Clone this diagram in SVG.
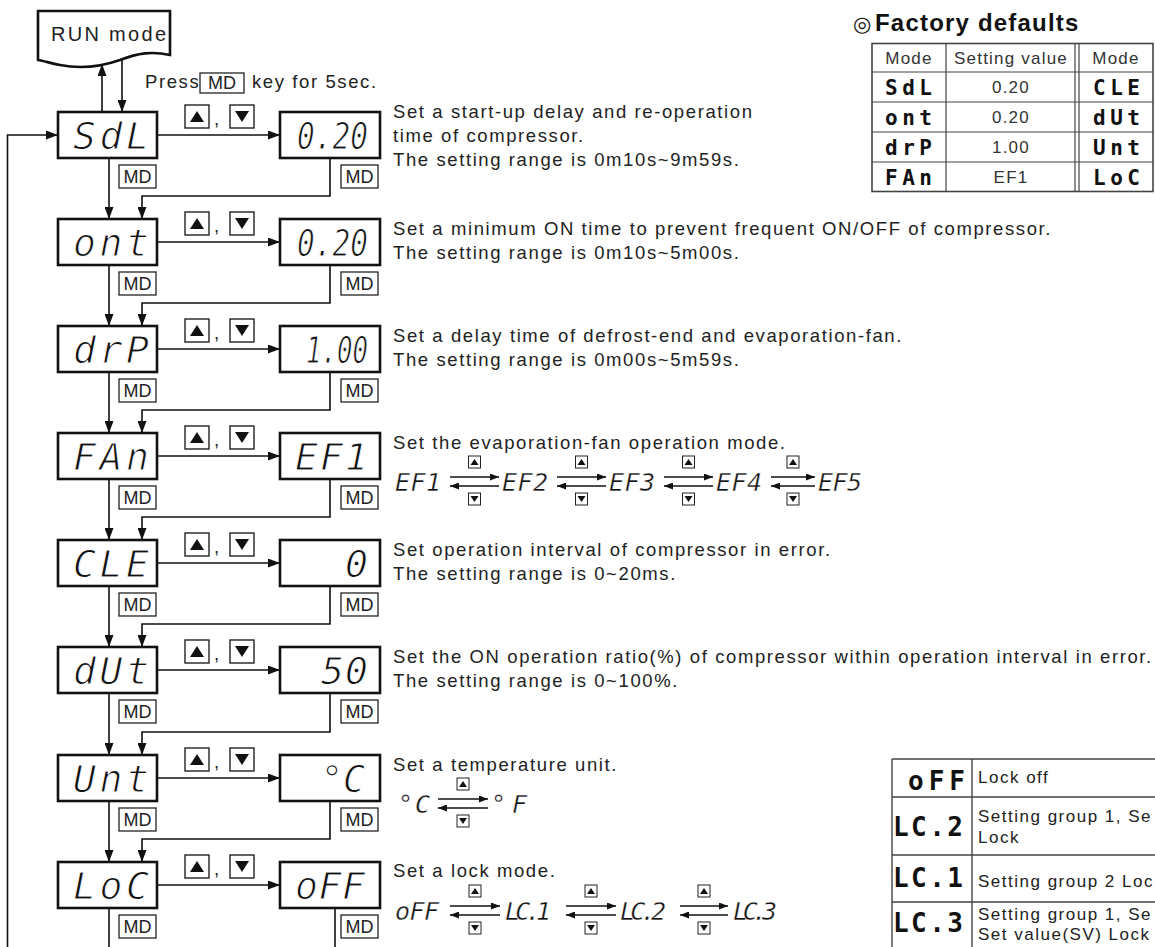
<svg xmlns="http://www.w3.org/2000/svg" width="1155" height="947" viewBox="0 0 1155 947">
<style>
.bx{fill:#fff;stroke:#111;stroke-width:2.6}
.md{fill:#fff;stroke:#222;stroke-width:1.3}
.k{fill:#fff;stroke:#222;stroke-width:1.4}
.sk{fill:#fff;stroke:#222;stroke-width:1}
.tri{fill:#111}
.ln{fill:none;stroke:#111;stroke-width:1.6}
.sa{fill:none;stroke:#111;stroke-width:1.4}
.seg{font-family:'DejaVu Sans Mono',monospace;font-style:oblique;fill:#111;stroke:#fff}
.n{font-size:38px;stroke-width:1.0px}
.s{font-size:25px;stroke-width:0.4px}
.bs{font-family:'DejaVu Sans Mono',monospace;font-weight:bold;fill:#111}
.t{font-family:'Liberation Sans',Arial,sans-serif;font-size:18.5px;letter-spacing:1.6px;fill:#222}
.lt{font-family:'Liberation Sans',Arial,sans-serif;font-size:17px;letter-spacing:1.5px;fill:#222}
.mt{font-family:'Liberation Sans',Arial,sans-serif;font-size:18px;fill:#222;text-anchor:middle}
.tb{font-family:'Liberation Sans',Arial,sans-serif;font-size:17px;letter-spacing:1.2px;fill:#333;text-anchor:middle}
.tg{fill:none;stroke:#444;stroke-width:1.2}
</style>
<defs>
<marker id="ah" viewBox="0 0 12 9" refX="12" refY="4.5" markerWidth="12" markerHeight="9" orient="auto" markerUnits="userSpaceOnUse"><path d="M0,0 L12,4.5 L0,9 Z" fill="#111"/></marker>
<marker id="as" viewBox="0 0 9 7" refX="9" refY="3.5" markerWidth="9" markerHeight="7" orient="auto" markerUnits="userSpaceOnUse"><path d="M0,0 L9,3.5 L0,7 Z" fill="#111"/></marker>
</defs>
<rect width="1155" height="947" fill="#fff"/>

<g id="connectors">
<path class="ln" d="M102,112 V64" marker-end="url(#ah)"/>
<path class="ln" d="M122,60 V112" marker-end="url(#ah)"/>
<path class="ln" d="M7.5,947 V135 H58" marker-end="url(#ah)"/>
<path class="ln" d="M157,135 H280" marker-end="url(#ah)"/>
<path class="ln" d="M157,242 H280" marker-end="url(#ah)"/>
<path class="ln" d="M157,349 H280" marker-end="url(#ah)"/>
<path class="ln" d="M157,456 H280" marker-end="url(#ah)"/>
<path class="ln" d="M157,563 H280" marker-end="url(#ah)"/>
<path class="ln" d="M157,670 H280" marker-end="url(#ah)"/>
<path class="ln" d="M157,778 H280" marker-end="url(#ah)"/>
<path class="ln" d="M157,885 H280" marker-end="url(#ah)"/>
<path class="ln" d="M109,158 V219" marker-end="url(#ah)"/>
<path class="ln" d="M109,265 V326" marker-end="url(#ah)"/>
<path class="ln" d="M109,372 V433" marker-end="url(#ah)"/>
<path class="ln" d="M109,479 V540" marker-end="url(#ah)"/>
<path class="ln" d="M109,586 V647" marker-end="url(#ah)"/>
<path class="ln" d="M109,693 V755" marker-end="url(#ah)"/>
<path class="ln" d="M109,801 V862" marker-end="url(#ah)"/>
<path class="ln" d="M109,908 V947"/>
<path class="ln" d="M330,158 V196 H142 V219" marker-end="url(#ah)"/>
<path class="ln" d="M330,265 V303 H142 V326" marker-end="url(#ah)"/>
<path class="ln" d="M330,372 V410 H142 V433" marker-end="url(#ah)"/>
<path class="ln" d="M330,479 V517 H142 V540" marker-end="url(#ah)"/>
<path class="ln" d="M330,586 V624 H142 V647" marker-end="url(#ah)"/>
<path class="ln" d="M330,693 V732 H142 V755" marker-end="url(#ah)"/>
<path class="ln" d="M330,801 V839 H142 V862" marker-end="url(#ah)"/>
<path class="ln" d="M335,908 V947"/>
</g>

<g id="run-mode">
<path class="bx" d="M38,11 H170 V55 C152,51 138,53 120,60 C100,67 80,69 60,65 C50,63 44,61 38,60 Z"/>
<text x="51" y="41" class="t" style="font-size:20px;letter-spacing:2.3px">RUN mode</text>
</g>

<g id="press-label">
<text x="145" y="88" class="t">Press</text>
<rect class="md" x="200" y="73" width="44" height="20"/>
<text x="222" y="89" class="mt">MD</text>
<text x="252" y="88" class="t">key for 5sec.</text>
</g>

<g id="key-labels">
<rect class="k" x="185" y="105" width="24" height="23"/><polygon class="tri" points="197,111 190,122 204,122"/><text x="214" y="125" class="t">,</text><rect class="k" x="230" y="105" width="24" height="23"/><polygon class="tri" points="235,111 249,111 242,122"/>
<rect class="k" x="185" y="212" width="24" height="23"/><polygon class="tri" points="197,218 190,229 204,229"/><text x="214" y="232" class="t">,</text><rect class="k" x="230" y="212" width="24" height="23"/><polygon class="tri" points="235,218 249,218 242,229"/>
<rect class="k" x="185" y="319" width="24" height="23"/><polygon class="tri" points="197,325 190,336 204,336"/><text x="214" y="339" class="t">,</text><rect class="k" x="230" y="319" width="24" height="23"/><polygon class="tri" points="235,325 249,325 242,336"/>
<rect class="k" x="185" y="426" width="24" height="23"/><polygon class="tri" points="197,432 190,443 204,443"/><text x="214" y="446" class="t">,</text><rect class="k" x="230" y="426" width="24" height="23"/><polygon class="tri" points="235,432 249,432 242,443"/>
<rect class="k" x="185" y="533" width="24" height="23"/><polygon class="tri" points="197,539 190,550 204,550"/><text x="214" y="553" class="t">,</text><rect class="k" x="230" y="533" width="24" height="23"/><polygon class="tri" points="235,539 249,539 242,550"/>
<rect class="k" x="185" y="640" width="24" height="23"/><polygon class="tri" points="197,646 190,657 204,657"/><text x="214" y="660" class="t">,</text><rect class="k" x="230" y="640" width="24" height="23"/><polygon class="tri" points="235,646 249,646 242,657"/>
<rect class="k" x="185" y="748" width="24" height="23"/><polygon class="tri" points="197,754 190,765 204,765"/><text x="214" y="768" class="t">,</text><rect class="k" x="230" y="748" width="24" height="23"/><polygon class="tri" points="235,754 249,754 242,765"/>
<rect class="k" x="185" y="855" width="24" height="23"/><polygon class="tri" points="197,861 190,872 204,872"/><text x="214" y="875" class="t">,</text><rect class="k" x="230" y="855" width="24" height="23"/><polygon class="tri" points="235,861 249,861 242,872"/>
</g>

<g id="md-labels">
<rect class="md" x="119" y="165" width="37" height="23"/><text x="137.5" y="183" class="mt">MD</text><rect class="md" x="341" y="165" width="37" height="23"/><text x="359.5" y="183" class="mt">MD</text>
<rect class="md" x="119" y="272" width="37" height="23"/><text x="137.5" y="290" class="mt">MD</text><rect class="md" x="341" y="272" width="37" height="23"/><text x="359.5" y="290" class="mt">MD</text>
<rect class="md" x="119" y="379" width="37" height="23"/><text x="137.5" y="397" class="mt">MD</text><rect class="md" x="341" y="379" width="37" height="23"/><text x="359.5" y="397" class="mt">MD</text>
<rect class="md" x="119" y="486" width="37" height="23"/><text x="137.5" y="504" class="mt">MD</text><rect class="md" x="341" y="486" width="37" height="23"/><text x="359.5" y="504" class="mt">MD</text>
<rect class="md" x="119" y="593" width="37" height="23"/><text x="137.5" y="611" class="mt">MD</text><rect class="md" x="341" y="593" width="37" height="23"/><text x="359.5" y="611" class="mt">MD</text>
<rect class="md" x="119" y="700" width="37" height="23"/><text x="137.5" y="718" class="mt">MD</text><rect class="md" x="341" y="700" width="37" height="23"/><text x="359.5" y="718" class="mt">MD</text>
<rect class="md" x="119" y="808" width="37" height="23"/><text x="137.5" y="826" class="mt">MD</text><rect class="md" x="341" y="808" width="37" height="23"/><text x="359.5" y="826" class="mt">MD</text>
<rect class="md" x="119" y="915" width="37" height="23"/><text x="137.5" y="933" class="mt">MD</text><rect class="md" x="341" y="915" width="37" height="23"/><text x="359.5" y="933" class="mt">MD</text>
</g>

<g id="node-SdL"><rect class="bx" x="58" y="112" width="99" height="46"/><text class="seg n" x="73" y="149" textLength="76">SdL</text></g>
<g id="value-SdL"><rect class="bx" x="280" y="112" width="100" height="46"/><text class="seg n" x="297" y="149" textLength="71" lengthAdjust="spacingAndGlyphs">0.20</text></g>
<g id="node-ont"><rect class="bx" x="58" y="219" width="99" height="46"/><text class="seg n" x="73" y="256" textLength="76">ont</text></g>
<g id="value-ont"><rect class="bx" x="280" y="219" width="100" height="46"/><text class="seg n" x="297" y="256" textLength="71" lengthAdjust="spacingAndGlyphs">0.20</text></g>
<g id="node-drP"><rect class="bx" x="58" y="326" width="99" height="46"/><text class="seg n" x="73" y="363" textLength="76">drP</text></g>
<g id="value-drP"><rect class="bx" x="280" y="326" width="100" height="46"/><text class="seg n" x="306" y="363" textLength="62" lengthAdjust="spacingAndGlyphs">1.00</text></g>
<g id="node-FAn"><rect class="bx" x="58" y="433" width="99" height="46"/><text class="seg n" x="73" y="470" textLength="76">FAn</text></g>
<g id="value-FAn"><rect class="bx" x="280" y="433" width="100" height="46"/><text class="seg n" x="295" y="470" textLength="73">EF1</text></g>
<g id="node-CLE"><rect class="bx" x="58" y="540" width="99" height="46"/><text class="seg n" x="73" y="577" textLength="76">CLE</text></g>
<g id="value-CLE"><rect class="bx" x="280" y="540" width="100" height="46"/><text class="seg n" x="345" y="577" textLength="23" lengthAdjust="spacingAndGlyphs">0</text></g>
<g id="node-dUt"><rect class="bx" x="58" y="647" width="99" height="46"/><text class="seg n" x="73" y="684" textLength="76">dUt</text></g>
<g id="value-dUt"><rect class="bx" x="280" y="647" width="100" height="46"/><text class="seg n" x="321" y="684" textLength="47">50</text></g>
<g id="node-Unt"><rect class="bx" x="58" y="755" width="99" height="46"/><text class="seg n" x="73" y="792" textLength="76">Unt</text></g>
<g id="value-Unt"><rect class="bx" x="280" y="755" width="100" height="46"/><text class="seg n" x="321" y="792" textLength="44" lengthAdjust="spacingAndGlyphs">°C</text></g>
<g id="node-LoC"><rect class="bx" x="58" y="862" width="99" height="46"/><text class="seg n" x="73" y="899" textLength="76">LoC</text></g>
<g id="value-LoC"><rect class="bx" x="280" y="862" width="100" height="46"/><text class="seg n" x="295" y="899" textLength="70">oFF</text></g>

<g id="descriptions">
<text class="t" x="393" y="118">Set a start-up delay and re-operation</text>
<text class="t" x="393" y="142">time of compressor.</text>
<text class="t" x="393" y="166">The setting range is 0m10s~9m59s.</text>
<text class="t" x="393" y="235">Set a minimum ON time to prevent frequent ON/OFF of compressor.</text>
<text class="t" x="393" y="259">The setting range is 0m10s~5m00s.</text>
<text class="t" x="393" y="342">Set a delay time of defrost-end and evaporation-fan.</text>
<text class="t" x="393" y="366">The setting range is 0m00s~5m59s.</text>
<text class="t" x="393" y="449">Set the evaporation-fan operation mode.</text>
<text class="t" x="393" y="556">Set operation interval of compressor in error.</text>
<text class="t" x="393" y="580">The setting range is 0~20ms.</text>
<text class="t" x="393" y="663">Set the ON operation ratio(%) of compressor within operation interval in error.</text>
<text class="t" x="393" y="687">The setting range is 0~100%.</text>
<text class="t" x="393" y="771">Set a temperature unit.</text>
<text class="t" x="393" y="877">Set a lock mode.</text>
</g>

<g id="fan-sequence">
<text class="seg s" x="395" y="491" textLength="46">EF1</text>
<text class="seg s" x="502" y="491" textLength="46">EF2</text>
<text class="seg s" x="609" y="491" textLength="46">EF3</text>
<text class="seg s" x="716" y="491" textLength="46">EF4</text>
<text class="seg s" x="818" y="491" textLength="44">EF5</text>
<rect class="sk" x="468.5" y="456" width="12" height="12"/><polygon class="tri" points="474.5,459 470.5,465 478.5,465"/>
<path class="sa" d="M450,477 H499" marker-end="url(#as)"/><path class="sa" d="M499,486 H450" marker-end="url(#as)"/>
<rect class="sk" x="468.5" y="493" width="12" height="12"/><polygon class="tri" points="470.5,496 478.5,496 474.5,502"/>
<rect class="sk" x="575.5" y="456" width="12" height="12"/><polygon class="tri" points="581.5,459 577.5,465 585.5,465"/>
<path class="sa" d="M557,477 H606" marker-end="url(#as)"/><path class="sa" d="M606,486 H557" marker-end="url(#as)"/>
<rect class="sk" x="575.5" y="493" width="12" height="12"/><polygon class="tri" points="577.5,496 585.5,496 581.5,502"/>
<rect class="sk" x="682.5" y="456" width="12" height="12"/><polygon class="tri" points="688.5,459 684.5,465 692.5,465"/>
<path class="sa" d="M664,477 H713" marker-end="url(#as)"/><path class="sa" d="M713,486 H664" marker-end="url(#as)"/>
<rect class="sk" x="682.5" y="493" width="12" height="12"/><polygon class="tri" points="684.5,496 692.5,496 688.5,502"/>
<rect class="sk" x="787" y="456" width="12" height="12"/><polygon class="tri" points="793,459 789,465 797,465"/>
<path class="sa" d="M771,477 H815" marker-end="url(#as)"/><path class="sa" d="M815,486 H771" marker-end="url(#as)"/>
<rect class="sk" x="787" y="493" width="12" height="12"/><polygon class="tri" points="789,496 797,496 793,502"/>
</g>

<g id="unit-sequence">
<text class="seg s" x="398" y="813" textLength="32">°C</text>
<text class="seg s" x="491" y="813" textLength="36">°F</text>
<rect class="sk" x="457" y="778" width="12" height="12"/><polygon class="tri" points="463,781 459,787 467,787"/>
<path class="sa" d="M438,799 H488" marker-end="url(#as)"/><path class="sa" d="M488,808 H438" marker-end="url(#as)"/>
<rect class="sk" x="457" y="815" width="12" height="12"/><polygon class="tri" points="459,818 467,818 463,824"/>
</g>

<g id="lock-sequence">
<text class="seg s" x="395" y="920" textLength="44">oFF</text>
<text class="seg s" x="505" y="920" textLength="46">LC.1</text>
<text class="seg s" x="620" y="920" textLength="46">LC.2</text>
<text class="seg s" x="733" y="920" textLength="44">LC.3</text>
<rect class="sk" x="469" y="885" width="12" height="12"/><polygon class="tri" points="475,888 471,894 479,894"/>
<path class="sa" d="M450,906 H500" marker-end="url(#as)"/><path class="sa" d="M500,915 H450" marker-end="url(#as)"/>
<rect class="sk" x="469" y="922" width="12" height="12"/><polygon class="tri" points="471,925 479,925 475,931"/>
<rect class="sk" x="585" y="885" width="12" height="12"/><polygon class="tri" points="591,888 587,894 595,894"/>
<path class="sa" d="M566,906 H616" marker-end="url(#as)"/><path class="sa" d="M616,915 H566" marker-end="url(#as)"/>
<rect class="sk" x="585" y="922" width="12" height="12"/><polygon class="tri" points="587,925 595,925 591,931"/>
<rect class="sk" x="698" y="885" width="12" height="12"/><polygon class="tri" points="704,888 700,894 708,894"/>
<path class="sa" d="M680,906 H728" marker-end="url(#as)"/><path class="sa" d="M728,915 H680" marker-end="url(#as)"/>
<rect class="sk" x="698" y="922" width="12" height="12"/><polygon class="tri" points="700,925 708,925 704,931"/>
</g>

<g id="factory-defaults">
<text y="31" style="font-family:'Liberation Sans',Arial,sans-serif;font-weight:bold;font-size:24px;letter-spacing:1.2px;fill:#111"><tspan x="853" style="font-family:'DejaVu Sans',sans-serif;font-weight:normal;font-size:21px;letter-spacing:0">◎</tspan><tspan x="875">Factory defaults</tspan></text>
<rect class="tg" x="872" y="43.5" width="281" height="148" style="stroke-width:1.6"/>
<path class="tg" d="M872,72 H1153 M872,102 H1153 M872,132 H1153 M872,162 H1153 M946,43.5 V191.5 M1075,43.5 V191.5 M1079,43.5 V191.5"/>
<text class="tb" x="909" y="64">Mode</text>
<text class="tb" x="1011" y="64">Setting value</text>
<text class="tb" x="1116" y="64">Mode</text>
<text class="bs" x="885" y="95" font-size="21" textLength="47">SdL</text>
<text class="bs" x="885" y="125" font-size="21" textLength="47">ont</text>
<text class="bs" x="885" y="155" font-size="21" textLength="47">drP</text>
<text class="bs" x="885" y="185" font-size="21" textLength="47">FAn</text>
<text class="tb" x="1011" y="93">0.20</text>
<text class="tb" x="1011" y="123">0.20</text>
<text class="tb" x="1011" y="153">1.00</text>
<text class="tb" x="1011" y="183">EF1</text>
<text class="bs" x="1093" y="95" font-size="21" textLength="47">CLE</text>
<text class="bs" x="1093" y="125" font-size="21" textLength="47">dUt</text>
<text class="bs" x="1093" y="155" font-size="21" textLength="47">Unt</text>
<text class="bs" x="1093" y="185" font-size="21" textLength="47">LoC</text>
</g>

<g id="lock-table">
<path class="tg" d="M892,759 H1155 M892,797 H1155 M892,855 H1155 M892,902 H1155 M892,759 V947 M972,759 V947" style="stroke-width:1.4"/>
<text class="bs" x="908" y="790" font-size="26" textLength="57">oFF</text>
<text class="bs" x="893" y="836" font-size="26" textLength="70">LC.2</text>
<text class="bs" x="893" y="887" font-size="26" textLength="70">LC.1</text>
<text class="bs" x="893" y="932" font-size="26" textLength="70">LC.3</text>
<text class="lt" x="978" y="783">Lock off</text>
<text class="lt" x="978" y="822">Setting group 1, Se</text>
<text class="lt" x="978" y="843">Lock</text>
<text class="lt" x="978" y="887">Setting group 2 Loc</text>
<text class="lt" x="978" y="920">Setting group 1, Se</text>
<text class="lt" x="978" y="940">Set value(SV) Lock</text>
</g>
</svg>
